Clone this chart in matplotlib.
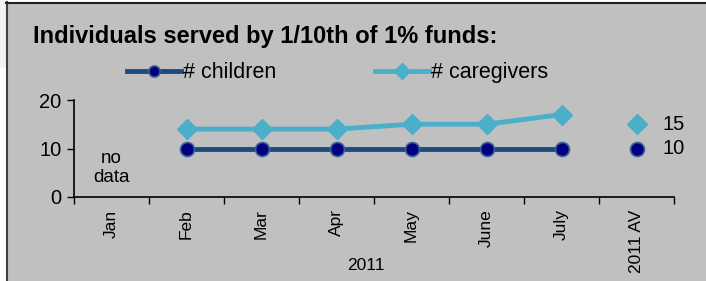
import numpy as np
import matplotlib.pyplot as plt
from matplotlib.patches import Rectangle

# data
months = ['Jan', 'Feb', 'Mar', 'Apr', 'May', 'June', 'July', '2011 AV']
children = [np.nan, 10, 10, 10, 10, 10, 10]
caregivers = [np.nan, 14, 14, 14, 15, 15, 17]
avg_children = 10
avg_caregivers = 15
year_label = '2011'
title = 'Individuals served by 1/10th of 1% funds:'

C_CHILD = '#1F4A7E'
C_CHILD_MK = '#000080'
C_CARE = '#4BAFCA'
BG = '#C0C0C0'

plt.rcParams['font.family'] = ['Liberation Sans', 'DejaVu Sans']

W, H = 706, 281
fig = plt.figure(figsize=(W / 100, H / 100), dpi=100)
fig.patch.set_facecolor('white')

def px(x0, y0, x1, y1):
    return [x0 / W, 1 - y1 / H, (x1 - x0) / W, (y1 - y0) / H]

# background panels
fig.patches.append(Rectangle((0, 1 - 68 / H), 6 / W, 68 / H, transform=fig.transFigure,
                             facecolor='#F2F2F2', edgecolor='none', zorder=-2))
fig.patches.append(Rectangle((6 / W, 0), 1 - 6 / W, 1 - 2 / H, transform=fig.transFigure,
                             facecolor=BG, edgecolor='none', zorder=-2))
fig.add_artist(plt.Line2D([6.5 / W, 6.5 / W], [0, 1 - 2 / H], transform=fig.transFigure,
                          color='#404040', lw=1.5, zorder=-1))
fig.add_artist(plt.Line2D([6 / W, 1], [1 - 2.5 / H, 1 - 2.5 / H], transform=fig.transFigure,
                          color='#202020', lw=1.5, zorder=-1))

ax = fig.add_axes(px(74, 100, 674, 197))
ax.set_facecolor('none')

x = np.arange(len(months)) + 0.5
l1, = ax.plot(x[:len(children)], children, color=C_CHILD, lw=3.5, marker='o', ms=10,
              mfc=C_CHILD_MK, mec='#3A5F9A', mew=1.2, zorder=3, label='# children')
l2, = ax.plot(x[:len(caregivers)], caregivers, color=C_CARE, lw=3.5, marker='D', ms=10.5,
              mfc=C_CARE, mec=C_CARE, zorder=2, label='# caregivers')

# averages
ax.plot([x[-1]], [avg_caregivers], marker='D', ms=10.5, color=C_CARE, ls='none', clip_on=False)
ax.plot([x[-1]], [avg_children], marker='o', ms=10, mfc=C_CHILD_MK, mec='#3A5F9A', mew=1.2,
        ls='none', clip_on=False)
ax.annotate(str(avg_caregivers), (x[-1], avg_caregivers), xytext=(19, 0), textcoords='offset points',
            va='center', ha='left', fontsize=14.5, annotation_clip=False)
ax.annotate(str(avg_children), (x[-1], avg_children), xytext=(19, 0), textcoords='offset points',
            va='center', ha='left', fontsize=14.5, annotation_clip=False)

ax.text(x[0], 6.0, 'no\ndata', ha='center', va='center', fontsize=13.5, linespacing=1.15)

ax.set_xlim(0, len(months))
ax.set_ylim(0, 20)
ax.set_yticks([0, 10, 20])
ax.tick_params(axis='y', labelsize=14.5, length=5, width=1, direction='out', pad=4)
ax.set_xticks(np.arange(len(months) + 1))
ax.set_xticklabels([])
ax.set_xticks(x, minor=True)
ax.set_xticklabels(months, minor=True, rotation=90, fontsize=12.5)
ax.tick_params(axis='x', which='major', length=5, width=1, direction='out')
ax.tick_params(axis='x', which='minor', length=0, pad=9)
for s in ['top', 'right']:
    ax.spines[s].set_visible(False)
ax.spines['left'].set_linewidth(1.2)
ax.spines['bottom'].set_linewidth(1.2)

fig.text(366 / W, 1 - 265 / H, year_label, ha='center', va='center', fontsize=12.5)
fig.text(33 / W, 1 - 37 / H, title, ha='left', va='center', fontsize=17, fontweight='bold')

fig.legend(handles=[l1, l2], loc='center left', bbox_to_anchor=(127 / W, 1 - 73 / H),
           ncol=2, frameon=False, fontsize=15.5, handlelength=2.5, handletextpad=0.1,
           columnspacing=4.6, markerscale=0.8, borderpad=0, borderaxespad=0)

fig.savefig('out.png', dpi=100)
